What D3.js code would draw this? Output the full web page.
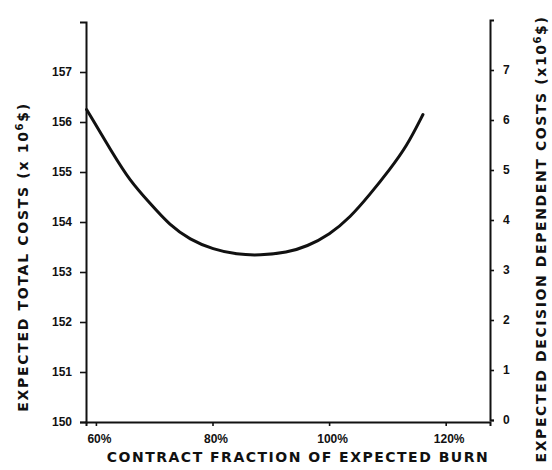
<!DOCTYPE html>
<html>
<head>
<meta charset="utf-8">
<script src="https://cdn.jsdelivr.net/npm/d3@7"></script>
<style>
  html, body { margin: 0; padding: 0; background: #fff; }
  svg { display: block; }
  text { font-family: "Liberation Sans", Arial, Helvetica, sans-serif; font-weight: bold; fill: #111; }
  .title { font-family: "DejaVu Sans", "Liberation Sans", sans-serif; }
</style>
</head>
<body>
<svg id="chart" width="552" height="470"></svg>
<script>
// Contract fraction of expected burn (%) and expected total cost (x 10^6 $)
const contractFraction = [58.4, 62.9, 65.8, 69.3, 72.7, 76.1, 80.1, 84.2, 88.1, 92.8, 96.2, 100.1, 103.6, 107.0, 110.4, 113.3, 116.1];
const totalCost        = [156.25, 155.37, 154.83, 154.37, 153.93, 153.65, 153.45, 153.35, 153.33, 153.39, 153.51, 153.75, 154.09, 154.55, 155.05, 155.51, 156.15];

const xTicks = [60, 80, 100, 120];
const xTickLabels = ["60%", "80%", "100%", "120%"];
const leftTicks = [150, 151, 152, 153, 154, 155, 156, 157];
const rightTicks = [0, 1, 2, 3, 4, 5, 6, 7];

const xDomain = [58.3, 127.6];
const leftDomain = [150, 158];
const rightDomain = [0, 8];

const svg = d3.select("#chart");
const ink = "#111";

const x = d3.scaleLinear().domain(xDomain).range([86, 490]);
const yL = d3.scaleLinear().domain(leftDomain).range([422, 22]);
const yR = d3.scaleLinear().domain(rightDomain).range([420, 20]);

function styleAxis(g) {
  g.select(".domain").attr("stroke", ink).attr("stroke-width", 2);
  g.selectAll(".tick line").attr("stroke", ink).attr("stroke-width", 1.6);
  g.selectAll(".tick text")
    .attr("font-size", 12)
    .attr("font-family", "'Liberation Sans', Arial, sans-serif")
    .attr("font-weight", "bold")
    .attr("fill", ink);
}

// bottom axis
const gx = svg.append("g")
  .attr("transform", `translate(0,${yL(150)})`)
  .call(d3.axisBottom(x).tickValues(xTicks)
    .tickFormat((d, i) => xTickLabels[i]).tickSizeOuter(0).tickSize(4).tickPadding(8));
styleAxis(gx);
gx.selectAll(".tick text").attr("dx", 3);

// left axis
const gl = svg.append("g")
  .attr("transform", `translate(${x(xDomain[0])},0)`)
  .call(d3.axisLeft(yL).tickValues(leftTicks).tickFormat(d3.format("d"))
    .tickSizeOuter(0).tickSize(6).tickPadding(8));
styleAxis(gl);

// right axis
const gr = svg.append("g")
  .attr("transform", `translate(${x(xDomain[1])},0)`)
  .call(d3.axisRight(yR).tickValues(rightTicks).tickFormat(d3.format("d"))
    .tickSizeOuter(0).tickSize(4).tickPadding(9));
styleAxis(gr);

// cost curve
const line = d3.line()
  .x((d, i) => x(contractFraction[i]))
  .y(d => yL(d))
  .curve(d3.curveBasis);

svg.append("path")
  .datum(totalCost)
  .attr("d", line)
  .attr("fill", "none")
  .attr("stroke", ink)
  .attr("stroke-width", 3)
  .attr("stroke-linecap", "round");

// axis titles
svg.append("text")
  .attr("class", "title")
  .attr("x", 298).attr("y", 462)
  .attr("text-anchor", "middle")
  .attr("font-size", 14)
  .attr("letter-spacing", 1.5)
  .text("CONTRACT FRACTION OF EXPECTED BURN");

const lt = svg.append("text")
  .attr("class", "title")
  .attr("transform", "translate(28,257) rotate(-90)")
  .attr("text-anchor", "middle")
  .attr("font-size", 14)
  .attr("letter-spacing", 1.7);
lt.append("tspan").text("EXPECTED TOTAL COSTS (x 10");
lt.append("tspan").attr("font-size", 10).attr("dy", -5).text("6");
lt.append("tspan").attr("dy", 5).text("$)");

const rt = svg.append("text")
  .attr("class", "title")
  .attr("transform", "translate(546,239) rotate(-90)")
  .attr("text-anchor", "middle")
  .attr("font-size", 14)
  .attr("letter-spacing", 1.6);
rt.append("tspan").text("EXPECTED DECISION DEPENDENT COSTS (x10");
rt.append("tspan").attr("font-size", 10).attr("dy", -5).text("6");
rt.append("tspan").attr("dy", 5).text("$)");
</script>
</body>
</html>
